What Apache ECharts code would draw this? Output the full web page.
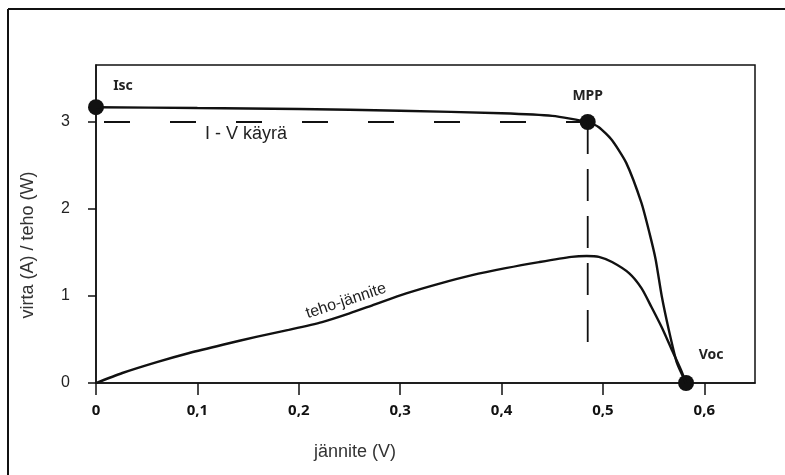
<!DOCTYPE html>
<html>
<head>
<meta charset="utf-8">
<title>I-V käyrä</title>
<script src="https://cdn.jsdelivr.net/npm/echarts@6/dist/echarts.min.js"></script>
<style>
    body{margin:0;background:#fff;}
    #main{width:785px;height:475px;}
</style>
</head>
<body>
<div id="main"></div>
<script>
// akselit
var xTicks = [0, 0.1, 0.2, 0.3, 0.4, 0.5, 0.6];
var yTicks = [0, 1, 2, 3];

// I-V käyrä (virta, A)
var ivX = [0, 0.1, 0.2, 0.3, 0.4, 0.45, 0.485, 0.496, 0.509, 0.523, 0.538, 0.546, 0.552, 0.558, 0.565, 0.573, 0.582];
var ivY = [3.17, 3.16, 3.15, 3.13, 3.10, 3.07, 3.0, 2.94, 2.79, 2.53, 2.07, 1.72, 1.42, 1.0, 0.61, 0.23, 0];

// teho-jännite (W)
var pX = [0, 0.026, 0.06, 0.092, 0.125, 0.158, 0.19, 0.223, 0.25, 0.272, 0.306, 0.338, 0.371, 0.404, 0.437, 0.469, 0.484, 0.496, 0.509, 0.526, 0.538, 0.548, 0.558, 0.568, 0.577, 0.582];
var pY = [0, 0.115, 0.24, 0.345, 0.44, 0.53, 0.61, 0.70, 0.80, 0.89, 1.03, 1.14, 1.24, 1.32, 1.39, 1.45, 1.46, 1.45, 1.39, 1.26, 1.09, 0.87, 0.64, 0.38, 0.15, 0];

// pisteet
var ptNames = ['Isc', 'MPP', 'Voc'];
var ptX = [0, 0.485, 0.582];
var ptY = [3.17, 3.0, 0];

// katkoviivat MPP:stä
var hDashX = [0, 0.485];
var hDashY = [3, 3];
var vDashX = [0.485, 0.485];
var vDashY = [3, 0.35];

function pairs(xs, ys) {
    var out = [];
    for (var i = 0; i < xs.length; i++) {
        out.push([xs[i], ys[i]]);
    }
    return out;
}

var labelOffsets = [[27, -21], [0, -26], [25, -28]];
var ptData = [];
for (var i = 0; i < ptNames.length; i++) {
    ptData.push({
        name: ptNames[i],
        value: [ptX[i], ptY[i]],
        label: {offset: labelOffsets[i]}
    });
}

var myChart = echarts.init(document.getElementById('main'));

var option = {
    backgroundColor: '#fff',
    animation: false,
    grid: {
        left: 96, right: 30, top: 65, bottom: 92,
        show: true,
        borderColor: '#111',
        borderWidth: 1.5
    },
    xAxis: {
        type: 'value',
        min: 0,
        max: 0.65,
        splitLine: {show: false},
        axisLine: {lineStyle: {color: '#111', width: 1.5}},
        axisTick: {length: 12, customValues: xTicks, lineStyle: {color: '#111', width: 1.5}},
        axisLabel: {
            customValues: xTicks,
            margin: 20,
            color: '#111',
            fontFamily: 'Noto Sans',
            fontWeight: 'bold',
            fontSize: 15,
            formatter: function (v) {
                return v === 0 ? '0' : v.toFixed(1).replace('.', ',');
            }
        }
    },
    yAxis: {
        type: 'value',
        min: 0,
        max: 3.655,
        splitLine: {show: false},
        axisLine: {lineStyle: {color: '#111', width: 1.5}},
        axisTick: {length: 8, customValues: yTicks, lineStyle: {color: '#111', width: 1.5}},
        axisLabel: {
            customValues: yTicks,
            margin: 26,
            color: '#222',
            fontFamily: 'Liberation Sans',
            fontSize: 16
        }
    },
    series: [
        {
            name: 'I-V',
            type: 'line',
            data: pairs(ivX, ivY),
            smooth: 0.2,
            symbol: 'none',
            lineStyle: {color: '#111', width: 2.4}
        },
        {
            name: 'teho',
            type: 'line',
            data: pairs(pX, pY),
            smooth: 0.25,
            symbol: 'none',
            lineStyle: {color: '#111', width: 2.4}
        },
        {
            type: 'line',
            data: pairs(hDashX, hDashY),
            symbol: 'none',
            lineStyle: {color: '#111', width: 1.8, type: [26, 40], dashOffset: -8}
        },
        {
            type: 'line',
            data: pairs(vDashX, vDashY),
            symbol: 'none',
            lineStyle: {color: '#111', width: 1.8, type: [32, 15]}
        },
        {
            type: 'scatter',
            data: ptData,
            symbolSize: 16,
            clip: false,
            itemStyle: {color: '#111', opacity: 1},
            label: {
                show: true,
                position: 'inside',
                formatter: '{b}',
                color: '#222',
                fontFamily: 'Noto Sans',
                fontWeight: 'bold',
                fontSize: 14
            }
        }
    ],
    graphic: [
        // ulkokehys
        {type: 'line', shape: {x1: 8, y1: 9, x2: 785, y2: 9}, style: {stroke: '#111', lineWidth: 2}},
        {type: 'line', shape: {x1: 8, y1: 9, x2: 8, y2: 475}, style: {stroke: '#111', lineWidth: 2}},
        {
            type: 'text', x: 28, y: 245, rotation: Math.PI / 2,
            style: {text: 'virta (A) / teho (W)', font: '18px "Liberation Sans"', fill: '#333', align: 'center', verticalAlign: 'middle'}
        },
        {
            type: 'text', x: 355, y: 452,
            style: {text: 'jännite (V)', font: '18px "Liberation Sans"', fill: '#333', align: 'center', verticalAlign: 'middle'}
        },
        {
            type: 'text', x: 246, y: 134,
            style: {text: 'I - V käyrä', font: '18px "Liberation Sans"', fill: '#222', align: 'center', verticalAlign: 'middle'}
        },
        {
            type: 'text', x: 346, y: 301, rotation: 0.32,
            style: {text: 'teho-jännite', font: '16px "Liberation Sans"', fill: '#222', align: 'center', verticalAlign: 'middle'}
        }
    ]
};

myChart.setOption(option);
</script>
</body>
</html>
